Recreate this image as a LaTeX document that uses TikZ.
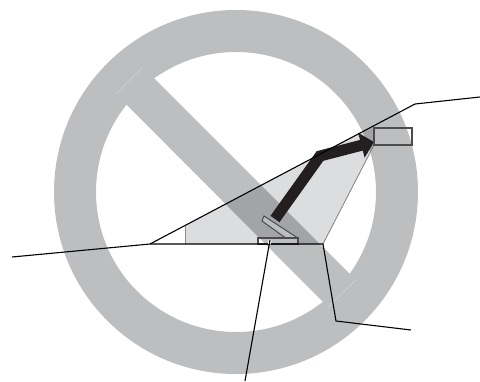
\documentclass[tikz,border=0pt]{standalone}
\usepackage{tikz}
\usepackage{xcolor}
\usetikzlibrary{arrows.meta, calc}
\definecolor{signgray}{HTML}{BCBEC0}
\definecolor{wedgegray}{HTML}{DCDDDE}
\definecolor{armblack}{HTML}{231F20}

\begin{document}
\begin{tikzpicture}[
    x=1pt, y=-1pt,
    sign/.style={fill=signgray, draw=none},
    wedge/.style={fill=wedgegray, draw=none, blend mode=multiply, even odd rule},
    leader/.style={draw=black, line width=1.1pt},
    frame/.style={draw=black!70, line width=1.2pt},
    arm/.style={-{Triangle[length=13pt, width=25pt]}, armblack, line width=11pt},
]
\useasboundingbox (0,0) rectangle (480,381);

% Points
\coordinate (left end) at (12,257);
\coordinate (toe) at (150,244);
\coordinate (heel) at (323,244);
\coordinate (top bend) at (415,104);
\coordinate (top end) at (480,97);
\coordinate (low bend) at (336,321);
\coordinate (low end) at (411,330);
\coordinate (pad top) at (270,240);
\coordinate (pad end) at (245,381);

% Prohibition sign
\fill[sign, even odd rule] (236,192) circle (182) (236,192) circle (140);
\fill[sign] (143,67) -- (356,280) -- (328,307) -- (116,94) -- cycle;
\draw[white, opacity=0.5, line width=0.3pt] (143,67) -- (116,94);
\draw[white, opacity=0.5, line width=0.3pt] (356,280) -- (328,307);

% Wedge
\fill[wedge] (185,244) -- (185,225.5) -- (362,132) -- (374,128) -- (374,145) -- (heel) -- cycle
    (258,238) rectangle (298,244);
\draw[gray, line width=0.8pt] (heel) -- (374,145);
\draw[black!45, line width=0.7pt] (185,244) -- (185,225.5);

% Pad, plate and arm
\draw[frame] (258,238) rectangle (298,244);
\draw[frame, fill=signgray, line width=1pt] (264,216) -- (297,237.5) -- (285,237.5) -- (262,221) -- cycle;
\draw[arm, line join=miter] (275,219) -- (320,156) -- (374,142);

% Box at top
\draw[frame] (374,128) rectangle (412,145);

% Leaders
\draw[leader] (left end) -- (toe) -- (top bend) -- (top end);
\draw[leader] (toe) -- (heel) -- (low bend) -- (low end);
\draw[white, line width=3pt] (pad top) -- ($(pad top)!0.03!(pad end)$);
\draw[leader] (pad top) -- (pad end);
\end{tikzpicture}
\end{document}
